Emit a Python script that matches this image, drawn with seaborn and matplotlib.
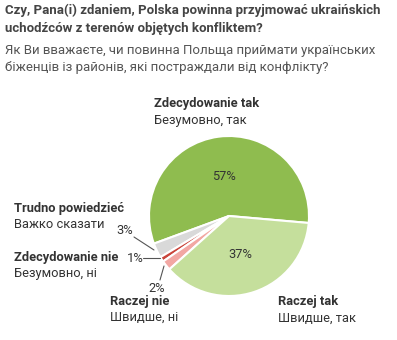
import matplotlib
matplotlib.use("Agg")
import matplotlib.pyplot as plt
import seaborn as sns

sns.set_theme(style="white")
plt.rcParams['font.family'] = ['Roboto', 'DejaVu Sans']

# Data
categories_pl = ["Zdecydowanie tak", "Trudno powiedzieć", "Zdecydowanie nie", "Raczej nie", "Raczej tak"]
categories_ua = ["Безумовно, так", "Важко сказати", "Безумовно, ні", "Швидше, ні", "Швидше, так"]
values = [57, 3, 1, 2, 37]
colors = ["#8fbc4f", "#d9d9d9", "#c9443a", "#f2a7a3", "#c5df9c"]
title_pl = "Czy, Pana(i) zdaniem, Polska powinna przyjmować ukraińskich\nuchodźców z terenów objętych konfliktem?"
title_ua = "Як Ви вважаєте, чи повинна Польща приймати українських\nбіженців із районів, які постраждали від конфлікту?"

W, H = 397, 340
fig = plt.figure(figsize=(W / 100, H / 100), dpi=100)

def fx(x):
    return x / W

def fy(y):
    return 1 - y / H

cx, cy, r = 229, 216, 80
ax = fig.add_axes([fx(cx - r), fy(cy + r), 2 * r / W, 2 * r / H])
ax.pie(values, colors=colors, startangle=-5, counterclock=True,
       wedgeprops=dict(edgecolor="white", linewidth=1.5))
ax.set_aspect("equal")
ax.set_xlim(-1, 1)
ax.set_ylim(-1, 1)
ax.axis("off")

dark = "#333333"
fig.text(fx(5), fy(4), title_pl, fontsize=9.5, fontweight="bold", color="#444444",
         va="top", ha="left", linespacing=1.45)
fig.text(fx(5), fy(44), title_ua, fontsize=9.5, color="#555555",
         va="top", ha="left", linespacing=1.45)

def label(x, y, pl, ua):
    fig.text(fx(x), fy(y), pl, fontsize=9.3, fontweight="bold", color=dark, va="center", ha="left")
    fig.text(fx(x), fy(y + 16), ua, fontsize=9.3, color=dark, va="center", ha="left")

label(154, 104, categories_pl[0], categories_ua[0])
label(278, 302, categories_pl[4], categories_ua[4])
label(14, 208, categories_pl[1], categories_ua[1])
label(14, 257, categories_pl[2], categories_ua[2])
label(110, 301, categories_pl[3], categories_ua[3])

fig.text(fx(224), fy(176), f"{values[0]}%", fontsize=9.3, color=dark, ha="center", va="center")
fig.text(fx(240), fy(255), f"{values[4]}%", fontsize=9.3, color=dark, ha="center", va="center")
fig.text(fx(125), fy(231), f"{values[1]}%", fontsize=9.3, color=dark, ha="center", va="center")
fig.text(fx(135), fy(258), f"{values[2]}%", fontsize=9.3, color=dark, ha="center", va="center")
fig.text(fx(157), fy(288), f"{values[3]}%", fontsize=9.3, color=dark, ha="center", va="center")

def leader(x1, y1, x2, y2):
    fig.add_artist(plt.Line2D([fx(x1), fx(x2)], [fy(y1), fy(y2)], color="#555555", lw=0.8))

leader(134, 237, 154, 250)
leader(143, 258, 160, 258)
leader(164, 266, 160, 280)

fig.savefig("out.png", dpi=100, facecolor="white")
